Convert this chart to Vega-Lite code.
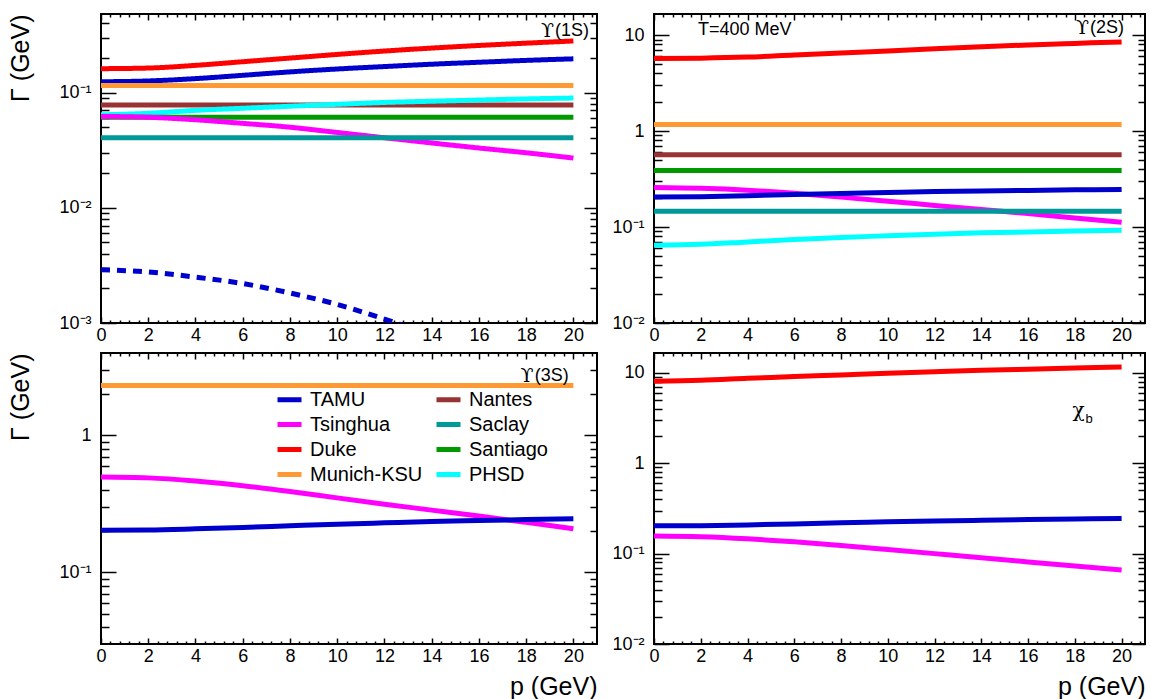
{
  "$schema": "https://vega.github.io/schema/vega-lite/v6.json",
  "padding": {"left": 7, "top": 12, "right": 6, "bottom": 4},
  "background": "white",
  "config": {
    "font": "Liberation Sans",
    "view": {"stroke": "black", "strokeWidth": 2},
    "axis": {"grid": false, "domain": false, "labelFlush": false, "labelFont": "Liberation Sans", "labelFontSize": 18, "labelColor": "black", "tickColor": "black", "tickWidth": 1.5, "titleFont": "Liberation Sans", "titleFontSize": 25, "titleFontWeight": "normal", "titleColor": "black"},
    "legend": {"labelFont": "Liberation Sans", "labelFontSize": 20, "labelColor": "black"}
  },
  "datasets": {
    "s1": [
      {"model": "Duke", "style": "solid", "p": 0, "g": 0.161}, {"model": "Duke", "style": "solid", "p": 2, "g": 0.163}, {"model": "Duke", "style": "solid", "p": 4, "g": 0.172}, {"model": "Duke", "style": "solid", "p": 6, "g": 0.185}, {"model": "Duke", "style": "solid", "p": 8, "g": 0.199}, {"model": "Duke", "style": "solid", "p": 10, "g": 0.214}, {"model": "Duke", "style": "solid", "p": 12, "g": 0.229}, {"model": "Duke", "style": "solid", "p": 14, "g": 0.243}, {"model": "Duke", "style": "solid", "p": 16, "g": 0.256}, {"model": "Duke", "style": "solid", "p": 18, "g": 0.268}, {"model": "Duke", "style": "solid", "p": 20, "g": 0.28},
      {"model": "TAMU", "style": "solid", "p": 0, "g": 0.124}, {"model": "TAMU", "style": "solid", "p": 2, "g": 0.126}, {"model": "TAMU", "style": "solid", "p": 4, "g": 0.132}, {"model": "TAMU", "style": "solid", "p": 6, "g": 0.141}, {"model": "TAMU", "style": "solid", "p": 8, "g": 0.151}, {"model": "TAMU", "style": "solid", "p": 10, "g": 0.16}, {"model": "TAMU", "style": "solid", "p": 12, "g": 0.168}, {"model": "TAMU", "style": "solid", "p": 14, "g": 0.176}, {"model": "TAMU", "style": "solid", "p": 16, "g": 0.183}, {"model": "TAMU", "style": "solid", "p": 18, "g": 0.19}, {"model": "TAMU", "style": "solid", "p": 20, "g": 0.196},
      {"model": "Munich-KSU", "style": "solid", "p": 0, "g": 0.115}, {"model": "Munich-KSU", "style": "solid", "p": 20, "g": 0.115},
      {"model": "Nantes", "style": "solid", "p": 0, "g": 0.078}, {"model": "Nantes", "style": "solid", "p": 20, "g": 0.078},
      {"model": "PHSD", "style": "solid", "p": 0, "g": 0.064}, {"model": "PHSD", "style": "solid", "p": 2, "g": 0.066}, {"model": "PHSD", "style": "solid", "p": 4, "g": 0.07}, {"model": "PHSD", "style": "solid", "p": 6, "g": 0.073}, {"model": "PHSD", "style": "solid", "p": 8, "g": 0.076}, {"model": "PHSD", "style": "solid", "p": 10, "g": 0.079}, {"model": "PHSD", "style": "solid", "p": 12, "g": 0.082}, {"model": "PHSD", "style": "solid", "p": 14, "g": 0.084}, {"model": "PHSD", "style": "solid", "p": 16, "g": 0.086}, {"model": "PHSD", "style": "solid", "p": 18, "g": 0.088}, {"model": "PHSD", "style": "solid", "p": 20, "g": 0.0895},
      {"model": "Santiago", "style": "solid", "p": 0, "g": 0.061}, {"model": "Santiago", "style": "solid", "p": 20, "g": 0.061},
      {"model": "Tsinghua", "style": "solid", "p": 0, "g": 0.062}, {"model": "Tsinghua", "style": "solid", "p": 2, "g": 0.061}, {"model": "Tsinghua", "style": "solid", "p": 4, "g": 0.058}, {"model": "Tsinghua", "style": "solid", "p": 6, "g": 0.054}, {"model": "Tsinghua", "style": "solid", "p": 8, "g": 0.05}, {"model": "Tsinghua", "style": "solid", "p": 10, "g": 0.045}, {"model": "Tsinghua", "style": "solid", "p": 12, "g": 0.0405}, {"model": "Tsinghua", "style": "solid", "p": 14, "g": 0.0365}, {"model": "Tsinghua", "style": "solid", "p": 16, "g": 0.033}, {"model": "Tsinghua", "style": "solid", "p": 18, "g": 0.03}, {"model": "Tsinghua", "style": "solid", "p": 20, "g": 0.027},
      {"model": "Saclay", "style": "solid", "p": 0, "g": 0.0405}, {"model": "Saclay", "style": "solid", "p": 20, "g": 0.0405},
      {"model": "TAMU", "style": "dashed", "p": 0, "g": 0.0029}, {"model": "TAMU", "style": "dashed", "p": 2, "g": 0.00277}, {"model": "TAMU", "style": "dashed", "p": 4, "g": 0.0025}, {"model": "TAMU", "style": "dashed", "p": 6, "g": 0.0022}, {"model": "TAMU", "style": "dashed", "p": 8, "g": 0.00182}, {"model": "TAMU", "style": "dashed", "p": 10, "g": 0.00145}, {"model": "TAMU", "style": "dashed", "p": 12, "g": 0.00108}, {"model": "TAMU", "style": "dashed", "p": 14, "g": 0.00078}
    ],
    "s2": [
      {"model": "Duke", "p": 0, "g": 5.7}, {"model": "Duke", "p": 2, "g": 5.75}, {"model": "Duke", "p": 4, "g": 5.9}, {"model": "Duke", "p": 6, "g": 6.2}, {"model": "Duke", "p": 8, "g": 6.5}, {"model": "Duke", "p": 10, "g": 6.85}, {"model": "Duke", "p": 12, "g": 7.2}, {"model": "Duke", "p": 14, "g": 7.55}, {"model": "Duke", "p": 16, "g": 7.9}, {"model": "Duke", "p": 18, "g": 8.2}, {"model": "Duke", "p": 20, "g": 8.5},
      {"model": "Munich-KSU", "p": 0, "g": 1.17}, {"model": "Munich-KSU", "p": 20, "g": 1.17},
      {"model": "Nantes", "p": 0, "g": 0.565}, {"model": "Nantes", "p": 20, "g": 0.565},
      {"model": "Santiago", "p": 0, "g": 0.388}, {"model": "Santiago", "p": 20, "g": 0.388},
      {"model": "Tsinghua", "p": 0, "g": 0.258}, {"model": "Tsinghua", "p": 2, "g": 0.253}, {"model": "Tsinghua", "p": 4, "g": 0.242}, {"model": "Tsinghua", "p": 6, "g": 0.225}, {"model": "Tsinghua", "p": 8, "g": 0.205}, {"model": "Tsinghua", "p": 10, "g": 0.186}, {"model": "Tsinghua", "p": 12, "g": 0.168}, {"model": "Tsinghua", "p": 14, "g": 0.152}, {"model": "Tsinghua", "p": 16, "g": 0.138}, {"model": "Tsinghua", "p": 18, "g": 0.124}, {"model": "Tsinghua", "p": 20, "g": 0.112},
      {"model": "TAMU", "p": 0, "g": 0.205}, {"model": "TAMU", "p": 2, "g": 0.207}, {"model": "TAMU", "p": 4, "g": 0.212}, {"model": "TAMU", "p": 6, "g": 0.218}, {"model": "TAMU", "p": 8, "g": 0.224}, {"model": "TAMU", "p": 10, "g": 0.229}, {"model": "TAMU", "p": 12, "g": 0.234}, {"model": "TAMU", "p": 14, "g": 0.238}, {"model": "TAMU", "p": 16, "g": 0.241}, {"model": "TAMU", "p": 18, "g": 0.244}, {"model": "TAMU", "p": 20, "g": 0.246},
      {"model": "Saclay", "p": 0, "g": 0.146}, {"model": "Saclay", "p": 20, "g": 0.146},
      {"model": "PHSD", "p": 0, "g": 0.0646}, {"model": "PHSD", "p": 2, "g": 0.066}, {"model": "PHSD", "p": 4, "g": 0.07}, {"model": "PHSD", "p": 6, "g": 0.074}, {"model": "PHSD", "p": 8, "g": 0.078}, {"model": "PHSD", "p": 10, "g": 0.081}, {"model": "PHSD", "p": 12, "g": 0.084}, {"model": "PHSD", "p": 14, "g": 0.087}, {"model": "PHSD", "p": 16, "g": 0.089}, {"model": "PHSD", "p": 18, "g": 0.091}, {"model": "PHSD", "p": 20, "g": 0.0925}
    ],
    "s3": [
      {"model": "Munich-KSU", "p": 0, "g": 2.32}, {"model": "Munich-KSU", "p": 20, "g": 2.32},
      {"model": "Tsinghua", "p": 0, "g": 0.497}, {"model": "Tsinghua", "p": 2, "g": 0.49}, {"model": "Tsinghua", "p": 4, "g": 0.465}, {"model": "Tsinghua", "p": 6, "g": 0.43}, {"model": "Tsinghua", "p": 8, "g": 0.39}, {"model": "Tsinghua", "p": 10, "g": 0.35}, {"model": "Tsinghua", "p": 12, "g": 0.315}, {"model": "Tsinghua", "p": 14, "g": 0.285}, {"model": "Tsinghua", "p": 16, "g": 0.258}, {"model": "Tsinghua", "p": 18, "g": 0.232}, {"model": "Tsinghua", "p": 20, "g": 0.208},
      {"model": "TAMU", "p": 0, "g": 0.203}, {"model": "TAMU", "p": 2, "g": 0.204}, {"model": "TAMU", "p": 4, "g": 0.208}, {"model": "TAMU", "p": 6, "g": 0.213}, {"model": "TAMU", "p": 8, "g": 0.219}, {"model": "TAMU", "p": 10, "g": 0.225}, {"model": "TAMU", "p": 12, "g": 0.23}, {"model": "TAMU", "p": 14, "g": 0.235}, {"model": "TAMU", "p": 16, "g": 0.239}, {"model": "TAMU", "p": 18, "g": 0.243}, {"model": "TAMU", "p": 20, "g": 0.246}
    ],
    "s4": [
      {"model": "Duke", "p": 0, "g": 8.1}, {"model": "Duke", "p": 2, "g": 8.3}, {"model": "Duke", "p": 4, "g": 8.7}, {"model": "Duke", "p": 6, "g": 9.1}, {"model": "Duke", "p": 8, "g": 9.5}, {"model": "Duke", "p": 10, "g": 9.9}, {"model": "Duke", "p": 12, "g": 10.3}, {"model": "Duke", "p": 14, "g": 10.7}, {"model": "Duke", "p": 16, "g": 11.0}, {"model": "Duke", "p": 18, "g": 11.3}, {"model": "Duke", "p": 20, "g": 11.6},
      {"model": "TAMU", "p": 0, "g": 0.203}, {"model": "TAMU", "p": 2, "g": 0.204}, {"model": "TAMU", "p": 4, "g": 0.208}, {"model": "TAMU", "p": 6, "g": 0.213}, {"model": "TAMU", "p": 8, "g": 0.219}, {"model": "TAMU", "p": 10, "g": 0.225}, {"model": "TAMU", "p": 12, "g": 0.23}, {"model": "TAMU", "p": 14, "g": 0.234}, {"model": "TAMU", "p": 16, "g": 0.238}, {"model": "TAMU", "p": 18, "g": 0.242}, {"model": "TAMU", "p": 20, "g": 0.245},
      {"model": "Tsinghua", "p": 0, "g": 0.157}, {"model": "Tsinghua", "p": 2, "g": 0.154}, {"model": "Tsinghua", "p": 4, "g": 0.146}, {"model": "Tsinghua", "p": 6, "g": 0.135}, {"model": "Tsinghua", "p": 8, "g": 0.123}, {"model": "Tsinghua", "p": 10, "g": 0.111}, {"model": "Tsinghua", "p": 12, "g": 0.1}, {"model": "Tsinghua", "p": 14, "g": 0.09}, {"model": "Tsinghua", "p": 16, "g": 0.081}, {"model": "Tsinghua", "p": 18, "g": 0.073}, {"model": "Tsinghua", "p": 20, "g": 0.066}
    ]
  },
  "columns": 2,
  "bounds": "flush",
  "spacing": {"row": 30, "column": 57},
  "concat": [
    {
      "width": 496, "height": 309,
      "data": {"name": "s1"},
      "layer": [
        {"mark": {"type": "line", "strokeWidth": 5, "clip": true, "interpolate": "monotone"},
         "encoding": {
           "x": {"field": "p", "type": "quantitative", "scale": {"domain": [0, 21], "nice": false, "zero": false}, "axis": {"orient": "bottom", "values": [0,2,4,6,8,10,12,14,16,18,20], "tickSize": -6, "labelPadding": 9, "title": null}},
           "y": {"field": "g", "type": "quantitative", "scale": {"type": "log", "domain": [0.001, 0.48], "nice": false}, "axis": {"orient": "left", "values": [0.001, 0.01, 0.1], "labelExpr": "datum.value < 0.0015 ? '10⁻³' : datum.value < 0.015 ? '10⁻²' : '10⁻¹'", "tickSize": -15, "labelPadding": 25, "title": "Γ (GeV)", "titleAnchor": "end", "titlePadding": 25}},
           "color": {"field": "model", "type": "nominal", "scale": {"domain": ["TAMU", "Tsinghua", "Duke", "Munich-KSU", "Nantes", "Saclay", "Santiago", "PHSD"], "range": ["#0000cc", "#ff00ff", "#ff0000", "#ff9933", "#993333", "#009999", "#009900", "#00ffff"]}, "legend": {"orient": "none", "legendX": 174, "legendY": 371, "columns": 2, "title": null, "symbolType": "stroke", "symbolStrokeWidth": 5, "symbolSize": 576, "columnPadding": 3, "rowPadding": 0, "labelOffset": 6}},
           "strokeDash": {"field": "style", "type": "nominal", "scale": {"domain": ["solid", "dashed"], "range": [[1, 0], [9, 7]]}, "legend": null}
         }},
        {"mark": {"type": "line", "opacity": 0},
         "encoding": {
           "x": {"field": "p", "type": "quantitative", "axis": {"orient": "top", "values": [0,2,4,6,8,10,12,14,16,18,20], "tickSize": -6, "labels": false, "title": null}},
           "y": {"field": "g", "type": "quantitative", "axis": {"orient": "right", "values": [0.001, 0.01, 0.1], "tickSize": -13, "labels": false, "title": null}}
         }},
        {"mark": {"type": "line", "opacity": 0},
         "encoding": {
           "x": {"field": "p", "type": "quantitative", "axis": {"orient": "bottom", "values": [0.4,0.8,1.2,1.6,2.4,2.8,3.2,3.6,4.4,4.8,5.2,5.6,6.4,6.8,7.2,7.6,8.4,8.8,9.2,9.6,10.4,10.8,11.2,11.6,12.4,12.8,13.2,13.6,14.4,14.8,15.2,15.6,16.4,16.8,17.2,17.6,18.4,18.8,19.2,19.6,20.4,20.8], "tickSize": -3, "labels": false, "title": null}},
           "y": {"field": "g", "type": "quantitative", "axis": {"orient": "left", "values": [0.002,0.003,0.004,0.005,0.006,0.007,0.008,0.009,0.02,0.03,0.04,0.05,0.06,0.07,0.08,0.09,0.2,0.3,0.4], "tickSize": -8, "labels": false, "title": null}}
         }},
        {"mark": {"type": "line", "opacity": 0},
         "encoding": {
           "x": {"field": "p", "type": "quantitative", "axis": {"orient": "top", "values": [0.4,0.8,1.2,1.6,2.4,2.8,3.2,3.6,4.4,4.8,5.2,5.6,6.4,6.8,7.2,7.6,8.4,8.8,9.2,9.6,10.4,10.8,11.2,11.6,12.4,12.8,13.2,13.6,14.4,14.8,15.2,15.6,16.4,16.8,17.2,17.6,18.4,18.8,19.2,19.6,20.4,20.8], "tickSize": -3, "labels": false, "title": null}},
           "y": {"field": "g", "type": "quantitative", "axis": {"orient": "right", "values": [0.002,0.003,0.004,0.005,0.006,0.007,0.008,0.009,0.02,0.03,0.04,0.05,0.06,0.07,0.08,0.09,0.2,0.3,0.4], "tickSize": -7, "labels": false, "title": null}}
         }},
        {"data": {"values": [{}]},
         "mark": {"type": "text", "text": "(1S)", "align": "right", "baseline": "middle", "fontSize": 18, "font": "Liberation Sans"},
         "encoding": {"x": {"datum": 20.66, "type": "quantitative", "axis": null}, "y": {"datum": 0.343, "type": "quantitative", "axis": null}}},
        {"data": {"values": [{}]},
         "mark": {"type": "text", "text": "ϒ", "align": "right", "baseline": "middle", "fontSize": 19, "font": "DejaVu Serif", "dx": -35},
         "encoding": {"x": {"datum": 20.66, "type": "quantitative", "axis": null}, "y": {"datum": 0.343, "type": "quantitative", "axis": null}}}
      ],
      "resolve": {"axis": {"x": "independent", "y": "independent"}}
    },
    {
      "width": 491, "height": 309,
      "data": {"name": "s2"},
      "layer": [
        {"mark": {"type": "line", "strokeWidth": 5, "clip": true, "interpolate": "monotone"},
         "encoding": {
           "x": {"field": "p", "type": "quantitative", "scale": {"domain": [0, 21], "nice": false, "zero": false}, "axis": {"orient": "bottom", "values": [0,2,4,6,8,10,12,14,16,18,20], "tickSize": -6, "labelPadding": 9, "title": null}},
           "y": {"field": "g", "type": "quantitative", "scale": {"type": "log", "domain": [0.01, 16.6], "nice": false}, "axis": {"orient": "left", "values": [0.01, 0.1, 1, 10], "labelExpr": "datum.value < 0.015 ? '10⁻²' : datum.value < 0.15 ? '10⁻¹' : datum.value < 1.5 ? '1' : '10'", "tickSize": -15, "labelPadding": 25, "title": null}},
           "color": {"field": "model", "type": "nominal", "legend": {"orient": "none", "legendX": 174, "legendY": 371, "columns": 2, "title": null, "symbolType": "stroke", "symbolStrokeWidth": 5, "symbolSize": 576, "columnPadding": 3, "rowPadding": 0, "labelOffset": 6}}
         }},
        {"mark": {"type": "line", "opacity": 0},
         "encoding": {
           "x": {"field": "p", "type": "quantitative", "axis": {"orient": "top", "values": [0,2,4,6,8,10,12,14,16,18,20], "tickSize": -6, "labels": false, "title": null}},
           "y": {"field": "g", "type": "quantitative", "axis": {"orient": "right", "values": [0.01, 0.1, 1, 10], "tickSize": -13, "labels": false, "title": null}}
         }},
        {"mark": {"type": "line", "opacity": 0},
         "encoding": {
           "x": {"field": "p", "type": "quantitative", "axis": {"orient": "bottom", "values": [0.4,0.8,1.2,1.6,2.4,2.8,3.2,3.6,4.4,4.8,5.2,5.6,6.4,6.8,7.2,7.6,8.4,8.8,9.2,9.6,10.4,10.8,11.2,11.6,12.4,12.8,13.2,13.6,14.4,14.8,15.2,15.6,16.4,16.8,17.2,17.6,18.4,18.8,19.2,19.6,20.4,20.8], "tickSize": -3, "labels": false, "title": null}},
           "y": {"field": "g", "type": "quantitative", "axis": {"orient": "left", "values": [0.02,0.03,0.04,0.05,0.06,0.07,0.08,0.09,0.2,0.3,0.4,0.5,0.6,0.7,0.8,0.9,2,3,4,5,6,7,8,9], "tickSize": -8, "labels": false, "title": null}}
         }},
        {"mark": {"type": "line", "opacity": 0},
         "encoding": {
           "x": {"field": "p", "type": "quantitative", "axis": {"orient": "top", "values": [0.4,0.8,1.2,1.6,2.4,2.8,3.2,3.6,4.4,4.8,5.2,5.6,6.4,6.8,7.2,7.6,8.4,8.8,9.2,9.6,10.4,10.8,11.2,11.6,12.4,12.8,13.2,13.6,14.4,14.8,15.2,15.6,16.4,16.8,17.2,17.6,18.4,18.8,19.2,19.6,20.4,20.8], "tickSize": -3, "labels": false, "title": null}},
           "y": {"field": "g", "type": "quantitative", "axis": {"orient": "right", "values": [0.02,0.03,0.04,0.05,0.06,0.07,0.08,0.09,0.2,0.3,0.4,0.5,0.6,0.7,0.8,0.9,2,3,4,5,6,7,8,9], "tickSize": -7, "labels": false, "title": null}}
         }},
        {"data": {"values": [{}]},
         "mark": {"type": "text", "text": "(2S)", "align": "right", "baseline": "middle", "fontSize": 18, "font": "Liberation Sans"},
         "encoding": {"x": {"datum": 20.1, "type": "quantitative", "axis": null}, "y": {"datum": 11.9, "type": "quantitative", "axis": null}}},
        {"data": {"values": [{}]},
         "mark": {"type": "text", "text": "ϒ", "align": "right", "baseline": "middle", "fontSize": 19, "font": "DejaVu Serif", "dx": -35},
         "encoding": {"x": {"datum": 20.1, "type": "quantitative", "axis": null}, "y": {"datum": 11.9, "type": "quantitative", "axis": null}}},
        {"data": {"values": [{}]},
         "mark": {"type": "text", "text": "T=400 MeV", "align": "left", "baseline": "middle", "fontSize": 18, "font": "Liberation Sans"},
         "encoding": {"x": {"datum": 1.88, "type": "quantitative", "axis": null}, "y": {"datum": 11.3, "type": "quantitative", "axis": null}}}
      ],
      "resolve": {"axis": {"x": "independent", "y": "independent"}}
    },
    {
      "width": 496, "height": 291,
      "data": {"name": "s3"},
      "layer": [
        {"mark": {"type": "line", "strokeWidth": 5, "clip": true, "interpolate": "monotone"},
         "encoding": {
           "x": {"field": "p", "type": "quantitative", "scale": {"domain": [0, 21], "nice": false, "zero": false}, "axis": {"orient": "bottom", "values": [0,2,4,6,8,10,12,14,16,18,20], "tickSize": -6, "labelPadding": 9, "title": "p (GeV)", "titleAnchor": "end", "titlePadding": 9}},
           "y": {"field": "g", "type": "quantitative", "scale": {"type": "log", "domain": [0.03, 4], "nice": false}, "axis": {"orient": "left", "values": [0.1, 1], "labelExpr": "datum.value < 0.15 ? '10⁻¹' : '1'", "tickSize": -15, "labelPadding": 25, "title": "Γ (GeV)", "titleAnchor": "end", "titlePadding": 25}},
           "color": {"field": "model", "type": "nominal", "legend": {"orient": "none", "legendX": 174, "legendY": 371, "columns": 2, "title": null, "symbolType": "stroke", "symbolStrokeWidth": 5, "symbolSize": 576, "columnPadding": 3, "rowPadding": 0, "labelOffset": 6}}
         }},
        {"mark": {"type": "line", "opacity": 0},
         "encoding": {
           "x": {"field": "p", "type": "quantitative", "axis": {"orient": "top", "values": [0,2,4,6,8,10,12,14,16,18,20], "tickSize": -6, "labels": false, "title": null}},
           "y": {"field": "g", "type": "quantitative", "axis": {"orient": "right", "values": [0.1, 1], "tickSize": -13, "labels": false, "title": null}}
         }},
        {"mark": {"type": "line", "opacity": 0},
         "encoding": {
           "x": {"field": "p", "type": "quantitative", "axis": {"orient": "bottom", "values": [0.4,0.8,1.2,1.6,2.4,2.8,3.2,3.6,4.4,4.8,5.2,5.6,6.4,6.8,7.2,7.6,8.4,8.8,9.2,9.6,10.4,10.8,11.2,11.6,12.4,12.8,13.2,13.6,14.4,14.8,15.2,15.6,16.4,16.8,17.2,17.6,18.4,18.8,19.2,19.6,20.4,20.8], "tickSize": -3, "labels": false, "title": null}},
           "y": {"field": "g", "type": "quantitative", "axis": {"orient": "left", "values": [0.04,0.05,0.06,0.07,0.08,0.09,0.2,0.3,0.4,0.5,0.6,0.7,0.8,0.9,2,3], "tickSize": -8, "labels": false, "title": null}}
         }},
        {"mark": {"type": "line", "opacity": 0},
         "encoding": {
           "x": {"field": "p", "type": "quantitative", "axis": {"orient": "top", "values": [0.4,0.8,1.2,1.6,2.4,2.8,3.2,3.6,4.4,4.8,5.2,5.6,6.4,6.8,7.2,7.6,8.4,8.8,9.2,9.6,10.4,10.8,11.2,11.6,12.4,12.8,13.2,13.6,14.4,14.8,15.2,15.6,16.4,16.8,17.2,17.6,18.4,18.8,19.2,19.6,20.4,20.8], "tickSize": -3, "labels": false, "title": null}},
           "y": {"field": "g", "type": "quantitative", "axis": {"orient": "right", "values": [0.04,0.05,0.06,0.07,0.08,0.09,0.2,0.3,0.4,0.5,0.6,0.7,0.8,0.9,2,3], "tickSize": -7, "labels": false, "title": null}}
         }},
        {"data": {"values": [{}]},
         "mark": {"type": "text", "text": "(3S)", "align": "right", "baseline": "middle", "fontSize": 18, "font": "Liberation Sans"},
         "encoding": {"x": {"datum": 19.8, "type": "quantitative", "axis": null}, "y": {"datum": 2.73, "type": "quantitative", "axis": null}}},
        {"data": {"values": [{}]},
         "mark": {"type": "text", "text": "ϒ", "align": "right", "baseline": "middle", "fontSize": 19, "font": "DejaVu Serif", "dx": -35},
         "encoding": {"x": {"datum": 19.8, "type": "quantitative", "axis": null}, "y": {"datum": 2.73, "type": "quantitative", "axis": null}}}
      ],
      "resolve": {"axis": {"x": "independent", "y": "independent"}}
    },
    {
      "width": 491, "height": 291,
      "data": {"name": "s4"},
      "layer": [
        {"mark": {"type": "line", "strokeWidth": 5, "clip": true, "interpolate": "monotone"},
         "encoding": {
           "x": {"field": "p", "type": "quantitative", "scale": {"domain": [0, 21], "nice": false, "zero": false}, "axis": {"orient": "bottom", "values": [0,2,4,6,8,10,12,14,16,18,20], "tickSize": -6, "labelPadding": 9, "title": "p (GeV)", "titleAnchor": "end", "titlePadding": 9}},
           "y": {"field": "g", "type": "quantitative", "scale": {"type": "log", "domain": [0.01, 16.6], "nice": false}, "axis": {"orient": "left", "values": [0.01, 0.1, 1, 10], "labelExpr": "datum.value < 0.015 ? '10⁻²' : datum.value < 0.15 ? '10⁻¹' : datum.value < 1.5 ? '1' : '10'", "tickSize": -15, "labelPadding": 25, "title": null}},
           "color": {"field": "model", "type": "nominal", "legend": {"orient": "none", "legendX": 174, "legendY": 371, "columns": 2, "title": null, "symbolType": "stroke", "symbolStrokeWidth": 5, "symbolSize": 576, "columnPadding": 3, "rowPadding": 0, "labelOffset": 6}}
         }},
        {"mark": {"type": "line", "opacity": 0},
         "encoding": {
           "x": {"field": "p", "type": "quantitative", "axis": {"orient": "top", "values": [0,2,4,6,8,10,12,14,16,18,20], "tickSize": -6, "labels": false, "title": null}},
           "y": {"field": "g", "type": "quantitative", "axis": {"orient": "right", "values": [0.01, 0.1, 1, 10], "tickSize": -13, "labels": false, "title": null}}
         }},
        {"mark": {"type": "line", "opacity": 0},
         "encoding": {
           "x": {"field": "p", "type": "quantitative", "axis": {"orient": "bottom", "values": [0.4,0.8,1.2,1.6,2.4,2.8,3.2,3.6,4.4,4.8,5.2,5.6,6.4,6.8,7.2,7.6,8.4,8.8,9.2,9.6,10.4,10.8,11.2,11.6,12.4,12.8,13.2,13.6,14.4,14.8,15.2,15.6,16.4,16.8,17.2,17.6,18.4,18.8,19.2,19.6,20.4,20.8], "tickSize": -3, "labels": false, "title": null}},
           "y": {"field": "g", "type": "quantitative", "axis": {"orient": "left", "values": [0.02,0.03,0.04,0.05,0.06,0.07,0.08,0.09,0.2,0.3,0.4,0.5,0.6,0.7,0.8,0.9,2,3,4,5,6,7,8,9], "tickSize": -8, "labels": false, "title": null}}
         }},
        {"mark": {"type": "line", "opacity": 0},
         "encoding": {
           "x": {"field": "p", "type": "quantitative", "axis": {"orient": "top", "values": [0.4,0.8,1.2,1.6,2.4,2.8,3.2,3.6,4.4,4.8,5.2,5.6,6.4,6.8,7.2,7.6,8.4,8.8,9.2,9.6,10.4,10.8,11.2,11.6,12.4,12.8,13.2,13.6,14.4,14.8,15.2,15.6,16.4,16.8,17.2,17.6,18.4,18.8,19.2,19.6,20.4,20.8], "tickSize": -3, "labels": false, "title": null}},
           "y": {"field": "g", "type": "quantitative", "axis": {"orient": "right", "values": [0.02,0.03,0.04,0.05,0.06,0.07,0.08,0.09,0.2,0.3,0.4,0.5,0.6,0.7,0.8,0.9,2,3,4,5,6,7,8,9], "tickSize": -7, "labels": false, "title": null}}
         }},
        {"data": {"values": [{}]},
         "mark": {"type": "text", "text": "χ", "align": "left", "baseline": "middle", "fontSize": 20, "font": "DejaVu Serif"},
         "encoding": {"x": {"datum": 17.9, "type": "quantitative", "axis": null}, "y": {"datum": 3.75, "type": "quantitative", "axis": null}}},
        {"data": {"values": [{}]},
         "mark": {"type": "text", "text": "b", "align": "left", "baseline": "middle", "fontSize": 13, "font": "Liberation Sans", "dx": 13, "dy": 8},
         "encoding": {"x": {"datum": 17.9, "type": "quantitative", "axis": null}, "y": {"datum": 3.75, "type": "quantitative", "axis": null}}}
      ],
      "resolve": {"axis": {"x": "independent", "y": "independent"}}
    }
  ]
}
